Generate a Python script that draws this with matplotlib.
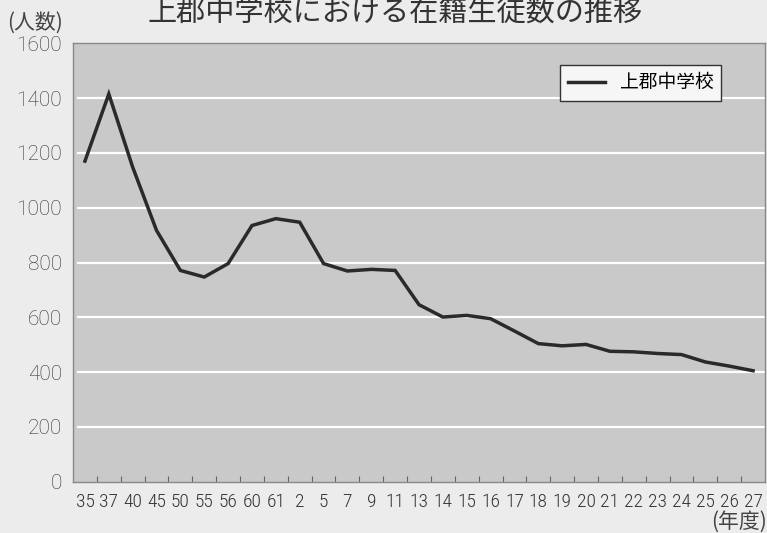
import numpy as np
import matplotlib.pyplot as plt

# 年度ラベルと在籍生徒数
years = ["35", "37", "40", "45", "50", "55", "56", "60", "61", "2", "5", "7", "9",
         "11", "13", "14", "15", "16", "17", "18", "19", "20", "21", "22", "23",
         "24", "25", "26", "27"]
students = [1170, 1415, 1148, 917, 771, 747, 796, 935, 960, 947, 796, 769, 775,
            771, 646, 601, 607, 595, 550, 504, 496, 501, 476, 474, 468,
            464, 437, 422, 405]
yticks = [0, 200, 400, 600, 800, 1000, 1200, 1400, 1600]

jp = ["Noto Sans CJK JP", "DejaVu Sans"]

fig = plt.figure(figsize=(7.67, 5.33), dpi=100)
fig.set_facecolor("#ececec")
ax = fig.add_axes([0.0952, 0.0962, 0.9022, 0.8226])
ax.set_facecolor("#c9c9c9")

x = np.arange(len(years))

# 白い目盛線（左端は少し離す）
ax.hlines(yticks[1:-1], -0.32, len(years) - 0.5, colors="white", lw=1.6, zorder=1)

ax.plot(x, students, color="#2a2a2a", lw=2.5, solid_joinstyle="miter",
        label="上郡中学校", zorder=3)

ax.set_xlim(-0.5, len(years) - 0.5)
ax.set_ylim(0, 1600)

ax.set_yticks(yticks)
ax.set_yticklabels([str(v) for v in yticks], family="Roboto", weight="light",
                   fontsize=15, color="#333333")
ax.tick_params(axis="y", length=0, pad=8)

# 区切りの目盛は年度の間に
ax.set_xticks(x)
ax.set_xticklabels(years, family="Roboto Condensed", weight="light",
                   fontsize=14, color="#333333")
ax.set_xticks(x[:-1] + 0.5, minor=True)
ax.tick_params(axis="x", which="major", length=0, pad=8)
ax.tick_params(axis="x", which="minor", direction="in", length=4,
               color="#666666", width=0.8)

for s in ax.spines.values():
    s.set_color("#888888")
    s.set_linewidth(1.0)

leg = ax.legend(loc="upper right", bbox_to_anchor=(0.937, 0.951),
                prop={"family": jp, "size": 13.5}, fancybox=False,
                framealpha=1, facecolor="#f6f6f6", edgecolor="#333333",
                handlelength=2.0, borderpad=0.4, borderaxespad=0)
leg.get_frame().set_linewidth(1.0)

fig.text(0.515, 0.974, "上郡中学校における在籍生徒数の推移", family=jp,
         fontsize=21, color="#333333", ha="center", va="center")
fig.text(0.045, 0.958, "(人数)", family=jp, fontsize=15, color="#444444",
         ha="center", va="center")
fig.text(0.963, 0.021, "(年度)", family=jp, fontsize=15, color="#444444",
         ha="center", va="center")

fig.savefig("out.png", dpi=100, facecolor=fig.get_facecolor())
